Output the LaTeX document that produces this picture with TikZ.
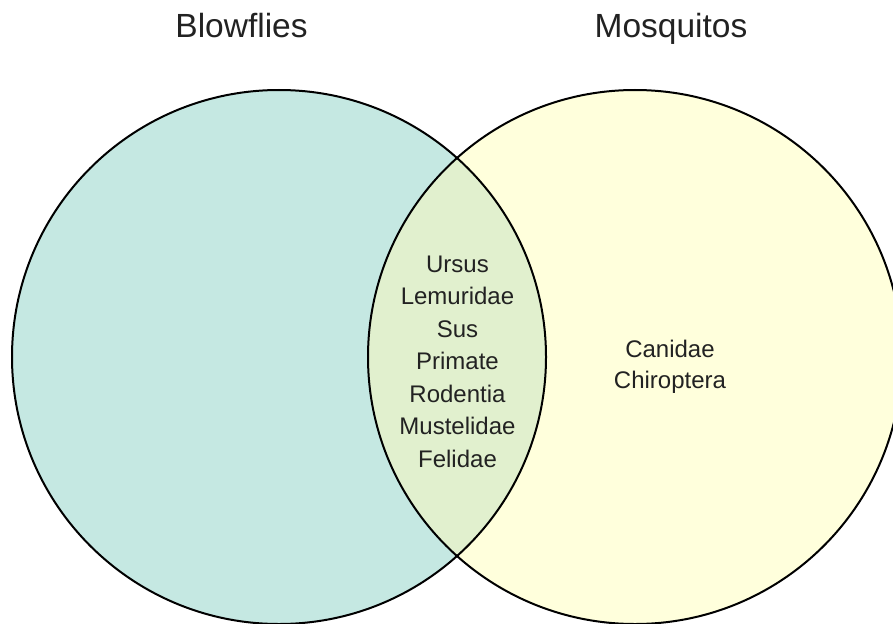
\documentclass[tikz,border=0pt]{standalone}
\usepackage{fontspec}
\setmainfont{Liberation Sans}
\definecolor{flyfill}{HTML}{C5E8E2}
\definecolor{mosqfill}{HTML}{FFFFDC}
\definecolor{bothfill}{HTML}{E1F0CE}
\definecolor{txt}{HTML}{222222}
\begin{document}
\begin{tikzpicture}[x=1pt,y=-1pt,
  title/.style={anchor=base,text=txt,inner sep=0pt,font=\fontsize{33.5}{40}\selectfont},
  item/.style={anchor=base,text=txt,inner sep=0pt,font=\fontsize{24}{30}\selectfont},
  ring/.style={draw=black,line width=2pt}]
\useasboundingbox (0,0) rectangle (893,623);
\clip (0,0) rectangle (893,623);
\coordinate (cl) at (279,357);
\coordinate (cr) at (635,357);
\fill[flyfill] (cl) circle[radius=267];
\fill[mosqfill] (cr) circle[radius=267];
\begin{scope}
  \clip (cl) circle[radius=267];
  \fill[bothfill] (cr) circle[radius=267];
\end{scope}
\draw[ring] (cl) circle[radius=267];
\draw[ring] (cr) circle[radius=267];
\node[title] (tb) at (241.5,38) {Blowflies};
\node[title] (tm) at (671,38) {Mosquitos};
\foreach \t [count=\i] in {Ursus,Lemuridae,Sus,Primate,Rodentia,Mustelidae,Felidae}
  \node[item] (b\i) at (457.5,{272+32.5*(\i-1)}) {\t};
\node[item] (m1) at (670,357) {Canidae};
\node[item] (m2) at (670,388) {Chiroptera};
\end{tikzpicture}
\end{document}
